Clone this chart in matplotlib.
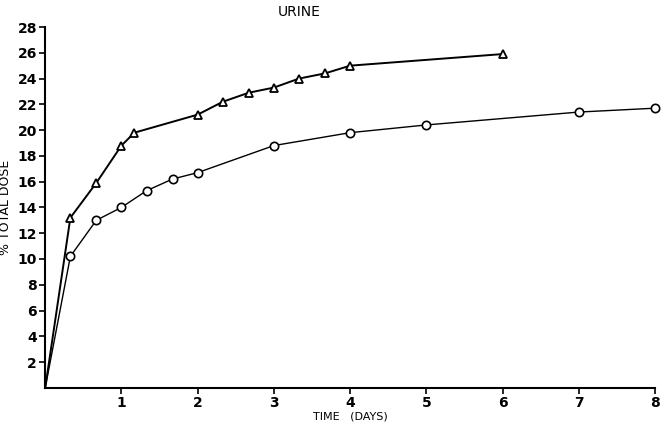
import matplotlib
matplotlib.use('Agg')
import matplotlib.pyplot as plt

# Triangle series (upper curve)
tri_days = [0, 0.33, 0.67, 1.0, 1.17, 2.0, 2.33, 2.67, 3.0, 3.33, 3.67, 4.0, 6.0]
tri_dose = [0, 13.2, 15.9, 18.8, 19.8, 21.2, 22.2, 22.9, 23.3, 24.0, 24.4, 25.0, 25.9]

# Circle series (lower curve)
circ_days = [0, 0.33, 0.67, 1.0, 1.33, 1.67, 2.0, 3.0, 4.0, 5.0, 7.0, 8.0]
circ_dose = [0, 10.2, 13.0, 14.0, 15.3, 16.2, 16.7, 18.8, 19.8, 20.4, 21.4, 21.7]

x_ticks = [1, 2, 3, 4, 5, 6, 7, 8]
y_ticks = [2, 4, 6, 8, 10, 12, 14, 16, 18, 20, 22, 24, 26, 28]

fig = plt.figure(figsize=(6.65, 4.22), dpi=100)
ax = fig.add_axes([0.068, 0.081, 0.917, 0.855])

# no marker at the origin
ax.plot(tri_days, tri_dose, color='black', lw=1.4, marker='^', ms=6,
        mfc='white', mec='black', mew=1.3, markevery=slice(1, None),
        clip_on=False, zorder=3)
ax.plot(circ_days, circ_dose, color='black', lw=1.0, marker='o', ms=6,
        mfc='white', mec='black', mew=1.2, markevery=slice(1, None),
        clip_on=False, zorder=3)

ax.set_xlim(0, 8)
ax.set_ylim(0, 28)
ax.set_xticks(x_ticks)
ax.set_yticks(y_ticks)
ax.tick_params(direction='out', length=4, width=1.2, labelsize=10, pad=2)
for lab in ax.get_xticklabels() + ax.get_yticklabels():
    lab.set_fontweight('bold')

for s in ['top', 'right']:
    ax.spines[s].set_visible(False)
for s in ['left', 'bottom']:
    ax.spines[s].set_linewidth(1.5)

ax.text(3.33, 29.2, 'URINE', fontsize=10, ha='center', va='center')
ax.set_xlabel('TIME   (DAYS)', fontsize=8, labelpad=1)
ax.set_ylabel('% TOTAL DOSE', fontsize=9, labelpad=4)

fig.savefig('out.png', dpi=100)
